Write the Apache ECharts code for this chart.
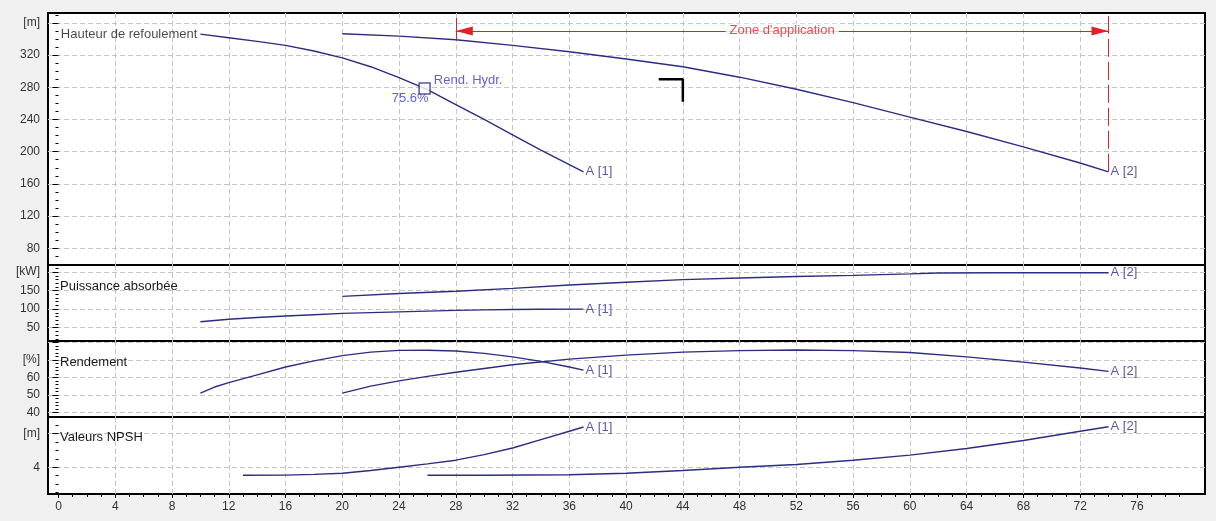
<!DOCTYPE html>
<html>
<head>
<meta charset="utf-8">
<script src="https://cdn.jsdelivr.net/npm/echarts/dist/echarts.min.js"></script>
<style>
html,body{margin:0;padding:0;background:#f0f0f0;}
#chart{width:1216px;height:521px;}
</style>
</head>
<body>
<div id="chart"></div>
<script>
// ---------------- DATA ----------------
// Flow axis (shared)
const X_MIN = -0.74, X_MAX = 80.8, X_STEP = 4;
const X_TICK_LABELS = [0,4,8,12,16,20,24,28,32,36,40,44,48,52,56,60,64,68,72,76];

// Hauteur de refoulement [m]
const HEAD1_X = [10,12,14,16,18,20,22,24,26,28,30,32,34,36,37];
const HEAD1   = [346,341.5,337,332,325,316.5,305.5,292,277,258.5,240,221,202,184,175];
const HEAD2_X = [20,24,28,32,36,40,44,48,52,56,60,64,68,72,74];
const HEAD2   = [346.5,343.5,339,332,324,315,305.5,292.5,277.5,261,243,225,206,186,175];
const HEAD_MIN = 59.3, HEAD_MAX = 372.2, HEAD_STEP = 40;
const HEAD_TICKS = [80,120,160,200,240,280,320,360];
const HEAD_TICK_TEXT = ['80','120','160','200','240','280','320','[m]'];

// Puissance absorbée [kW]
const POW1_X = [10,12,14,16,18,20,22,24,26,28,30,32,34,37];
const POW1   = [66,72.5,77.5,81.5,85,88.5,90.5,92.5,94.5,96.5,98,99,99.5,100];
const POW2_X = [20,24,28,32,36,40,44,48,52,56,60,62,66,70,74];
const POW2   = [134.5,142,148,156,165,172.5,179.5,184,188,191,195,197.5,198,198,198];
const POW_MIN = 14, POW_MAX = 219, POW_STEP = 50;
const POW_TICKS = [50,100,150,200];
const POW_TICK_TEXT = ['50','100','150','[kW]'];

// Rendement [%]
const EFF1_X = [10,11,12,14,16,18,20,22,24,26,28,30,32,34,36,37];
const EFF1   = [51,54.5,57,61.5,66,69.5,72.5,74.5,75.5,75.6,75.2,73.8,71.8,69.2,66,64.2];
const EFF2_X = [20,22,24,26,28,32,36,40,44,48,52,56,60,64,68,72,74];
const EFF2   = [51,55,58,60.6,63,67.3,70.5,72.8,74.5,75.4,75.7,75.4,74.3,71.8,68.8,65.4,63.5];
const EFF_MIN = 37.3, EFF_MAX = 80.9, EFF_STEP = 10;
const EFF_TICKS = [40,50,60,70];
const EFF_TICK_TEXT = ['40','50','60','[%]'];

// Valeurs NPSH [m]
const NPSH1_X = [13,16,18,20,22,24,26,28,30,32,34,36,37];
const NPSH1   = [3.52,3.53,3.57,3.64,3.8,4.0,4.2,4.42,4.75,5.15,5.65,6.15,6.4];
const NPSH2_X = [26,30,36,40,44,48,52,56,60,64,68,72,74];
const NPSH2   = [3.52,3.52,3.55,3.64,3.8,4.0,4.16,4.42,4.72,5.12,5.6,6.15,6.42];
const NPSH_MIN = 2.4, NPSH_MAX = 7, NPSH_STEP = 2;
const NPSH_TICKS = [4,6];
const NPSH_TICK_TEXT = ['4','[m]'];

// Annotations
const CURVE_NAMES = ['A [1]','A [2]'];
const PANEL_TITLES = ['Hauteur de refoulement','Puissance absorbée','Rendement','Valeurs NPSH'];
const ZONE = [28, 74];            // Zone d'application (flow limits)
const ZONE_ARROW_Y = 350;
const ZONE_LEFT = [339, 366];     // extent of the left limit line
const ZONE_TEXT = "Zone d'application";
const BEP = [25.8, 278.5];        // Rend. Hydr. point
const BEP_LABEL = 'Rend. Hydr.';
const BEP_EFF = '75.6%';
const OP_X = [42.3, 44, 44];      // operating-point corner mark
const OP_Y = [290, 290, 262];

// ---------------- STYLE ----------------
const FONT = "'Liberation Sans', Arial, sans-serif";
const NAVY = '#2c2c82';
const LBL = '#303090';
const BLUE = '#3a3ac0';
const RED = '#e32028';
const GRIDC = '#c4c4c4';

const pairs = (xs, ys) => xs.map((x, i) => [x, ys[i]]);
const last = a => a[a.length - 1];

const gridDefs = [
  {top:13, height:252},
  {top:265, height:76},
  {top:341, height:76},
  {top:417, height:77}
].map(g => Object.assign({left:48, right:11, show:true, backgroundColor:'#fff', borderColor:'#000', borderWidth:2}, g));

const splitLineStyle = {show:true, showMinLine:false, showMaxLine:false, lineStyle:{color:GRIDC, type:[5,3], width:1}};

function yAxis(i, min, max, step, ticks, texts, minorSplit) {
  return {
    type:'value', gridIndex:i, min:min, max:max, minInterval:step, maxInterval:step,
    axisLine:{show:false},
    axisTick:{show:true, length:6, lineStyle:{color:'#000'}},
    minorTick:{show:true, splitNumber:minorSplit, length:3, lineStyle:{color:'#000'}},
    axisLabel:{show:true, margin:8, color:'#333', fontSize:12, fontFamily:FONT, showMinLabel:false, showMaxLabel:false,
      formatter: v => { const k = ticks.indexOf(Math.round(v*1000)/1000); return k >= 0 ? texts[k] : ''; }},
    splitLine:splitLineStyle
  };
}
const yAxes = [
  yAxis(0, HEAD_MIN, HEAD_MAX, HEAD_STEP, HEAD_TICKS, HEAD_TICK_TEXT, 4),
  yAxis(1, POW_MIN, POW_MAX, POW_STEP, POW_TICKS, POW_TICK_TEXT, 5),
  yAxis(2, EFF_MIN, EFF_MAX, EFF_STEP, EFF_TICKS, EFF_TICK_TEXT, 5),
  yAxis(3, NPSH_MIN, NPSH_MAX, NPSH_STEP, NPSH_TICKS, NPSH_TICK_TEXT, 4)
];
const xAxes = [0,1,2,3].map(i => ({
  type:'value', gridIndex:i, min:X_MIN, max:X_MAX, minInterval:X_STEP, maxInterval:X_STEP,
  axisLine:{show:false},
  axisTick:{show:i===3, length:4, lineStyle:{color:'#000'}, customValues:X_TICK_LABELS},
  minorTick:{show:i===3, splitNumber:4, length:3, lineStyle:{color:'#000'}},
  axisLabel:{show:i===3, margin:7, color:'#333', fontSize:12, fontFamily:FONT, showMinLabel:true, showMaxLabel:true,
    customValues:X_TICK_LABELS,
    formatter: v => String(Math.round(v))},
  splitLine:splitLineStyle
}));

function curve(i, xs, ys) {
  return {
    type:'line', xAxisIndex:i, yAxisIndex:i, data:pairs(xs, ys),
    symbol:'none', smooth:false, silent:true,
    lineStyle:{color:NAVY, width:1.4}, z:3
  };
}
function textPoint(x, y, text, position, extra) {
  return {value:[x, y], label:Object.assign({show:true, formatter:text, position:position, distance:2,
    color:LBL, fontSize:13, fontFamily:FONT}, extra || {})};
}
function labelSeries(i, items) {
  return {type:'scatter', xAxisIndex:i, yAxisIndex:i, symbolSize:0, silent:true, z:5, data:items};
}

const series = [];
// Panel 1
series.push(curve(0, HEAD1_X, HEAD1));
const h2 = curve(0, HEAD2_X, HEAD2);
h2.markLine = {
  silent:true, animation:false, symbol:['none','none'], label:{show:false},
  lineStyle:{color:RED, width:1, type:'solid'},
  data:[
    [{coord:[ZONE[0], ZONE_LEFT[0]]}, {coord:[ZONE[0], ZONE_LEFT[1]]}],
    [{coord:[ZONE[1], last(HEAD2)], lineStyle:{type:[18,5], width:1, color:RED}}, {coord:[ZONE[1], HEAD_MAX]}],
    [{coord:[ZONE[0], ZONE_ARROW_Y], symbol:'triangle', symbolSize:[9,17], symbolOffset:[0,8.5]},
     {coord:[ZONE[1], ZONE_ARROW_Y], symbol:'triangle', symbolSize:[9,17], symbolOffset:[0,8.5]}]
  ]
};
series.push(h2);
series.push({type:'line', xAxisIndex:0, yAxisIndex:0, data:pairs(OP_X, OP_Y), symbol:'none', silent:true,
  lineStyle:{color:'#000', width:2.5}, z:4});
series.push(labelSeries(0, [
  textPoint(HEAD1_X[0], HEAD1[0], PANEL_TITLES[0], 'left', {color:'#1a1a1a', distance:3}),
  textPoint(last(HEAD1_X), last(HEAD1), CURVE_NAMES[0], 'right'),
  textPoint(last(HEAD2_X), last(HEAD2), CURVE_NAMES[1], 'right'),
  textPoint((ZONE[0] + ZONE[1]) / 2, ZONE_ARROW_Y, ZONE_TEXT, 'inside', {color:RED, backgroundColor:'#fff', padding:[1,4]})
]));
series.push({type:'scatter', xAxisIndex:0, yAxisIndex:0, symbol:'rect', symbolSize:11, silent:true, z:6,
  itemStyle:{color:'#fff', borderColor:NAVY, borderWidth:1.5},
  data:[{value:BEP, label:{show:true, formatter:BEP_LABEL, position:'right', distance:3, offset:[0,-8], color:BLUE, fontSize:13, fontFamily:FONT}}]});
series.push(labelSeries(0, [textPoint(BEP[0], BEP[1], BEP_EFF, 'left', {color:BLUE, distance:0, offset:[4,10]})]));
// Panel 2
series.push(curve(1, POW1_X, POW1));
series.push(curve(1, POW2_X, POW2));
series.push(labelSeries(1, [
  textPoint(last(POW1_X), last(POW1), CURVE_NAMES[0], 'right'),
  textPoint(last(POW2_X), last(POW2), CURVE_NAMES[1], 'right')
]));
// Panel 3
series.push(curve(2, EFF1_X, EFF1));
series.push(curve(2, EFF2_X, EFF2));
series.push(labelSeries(2, [
  textPoint(last(EFF1_X), last(EFF1), CURVE_NAMES[0], 'right'),
  textPoint(last(EFF2_X), last(EFF2), CURVE_NAMES[1], 'right')
]));
// Panel 4
series.push(curve(3, NPSH1_X, NPSH1));
series.push(curve(3, NPSH2_X, NPSH2));
series.push(labelSeries(3, [
  textPoint(last(NPSH1_X), last(NPSH1), CURVE_NAMES[0], 'right'),
  textPoint(last(NPSH2_X), last(NPSH2), CURVE_NAMES[1], 'right')
]));

const titleText = (t, top) => ({type:'text', left:60, top:top, z:10, silent:true,
  style:{text:t, fill:'#1a1a1a', fontSize:13, fontFamily:FONT}});

const chart = echarts.init(document.getElementById('chart'), null, {renderer:'canvas'});
chart.setOption({
  animation:false,
  backgroundColor:'#f0f0f0',
  grid:gridDefs,
  xAxis:xAxes,
  yAxis:yAxes,
  graphic:[
    titleText(PANEL_TITLES[1], 280),
    titleText(PANEL_TITLES[2], 356),
    titleText(PANEL_TITLES[3], 431)
  ],
  series:series
});
</script>
</body>
</html>
